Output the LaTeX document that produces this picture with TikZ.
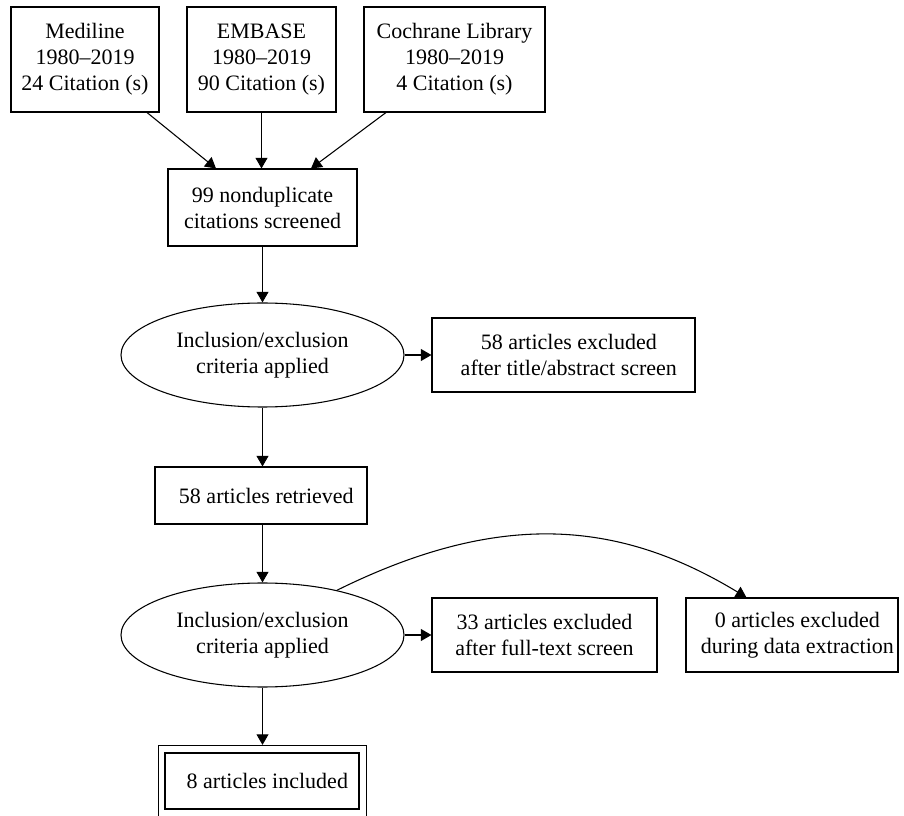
\documentclass[tikz,border=0pt]{standalone}
\usepackage{fontspec}
\setmainfont{Liberation Serif}
\usetikzlibrary{shapes.geometric, arrows.meta, fit}

\newdimen\px \px=0.75pt
\newcommand{\lpad}{\hspace*{8pt}}

\begin{document}
\begin{tikzpicture} [
  x=\px, y=-\px, line width=0.8pt,
  every node/.style={font=\fontsize{16.5pt}{19.5pt}\selectfont, align=center, inner sep=0pt},
  src/.style={draw, rectangle, minimum height=105\px},
  stage/.style={draw, rectangle},
  crit/.style={draw, ellipse, minimum width=283\px, minimum height=104\px},
  arr/.style={-{Triangle[length=8pt, width=9pt]}}
  ]
  \useasboundingbox (0,0) rectangle (904,816);
  \clip (0,0) rectangle (904,816);

  % sources
  \node(med)[src, minimum width=148\px] at (85,59.5) {Mediline\\1980--2019\\24 Citation (s)};
  \node(emb)[src, minimum width=149\px] at (261.5,59.5) {EMBASE\\1980--2019\\90 Citation (s)};
  \node(coch)[src, minimum width=181\px] at (454.5,59.5) {Cochrane Library\\1980--2019\\4 Citation (s)};

  % screening
  \node(nondup)[stage, minimum width=189\px, minimum height=77\px] at (262.5,207.5) {99 nonduplicate\\citations screened};
  \node(crit1)[crit] at (262.5,355) {Inclusion/exclusion\\criteria applied};
  \node(excl1)[stage, minimum width=263\px, minimum height=74\px] at (563.5,355) {\lpad 58 articles excluded\\\lpad after title/abstract screen};
  \node(retr)[stage, minimum width=212\px, minimum height=57\px] at (261,495.5) {\lpad 58 articles retrieved};
  \node(crit2)[crit] at (262.5,635) {Inclusion/exclusion\\criteria applied};
  \node(excl2)[stage, minimum width=225\px, minimum height=74\px] at (544.5,635) {33 articles excluded\\after full-text screen};
  \node(excl3)[stage, minimum width=212\px, minimum height=74\px] at (792,635) {\lpad 0 articles excluded\\\lpad during data extraction};
  \node(incl)[stage, minimum width=194\px, minimum height=56\px] at (262,781) {\lpad 8 articles included};
  \coordinate (inclnw) at ([shift={(-6,-7)}]incl.north west);
  \coordinate (inclse) at ([shift={(7,40)}]incl.south east);
  \node(inclbox)[fit=(inclnw) (inclse), draw]{};

  \begin{scope}[arr]
    \draw ([xshift=62\px]med.south) -- ([xshift=-46.5\px]nondup.north);
    \draw (emb.south) -- (emb.south |- nondup.north);
    \draw ([xshift=-68.5\px]coch.south) -- ([xshift=48.5\px]nondup.north);
    \draw (nondup) -- (crit1);
    \draw (crit1) -- (excl1);
    \draw (crit1.south) -- (crit1.south |- retr.north);
    \draw (retr.south -| crit2.north) -- (crit2.north);
    \draw (crit2) -- (excl2);
    \draw (crit2.south) -- (crit2.south |- inclbox.north);
    \draw (crit2.31) .. controls +(160,-79) and +(-130,-79) .. ([xshift=61\px]excl3.north west);
  \end{scope}
\end{tikzpicture}
\end{document}
